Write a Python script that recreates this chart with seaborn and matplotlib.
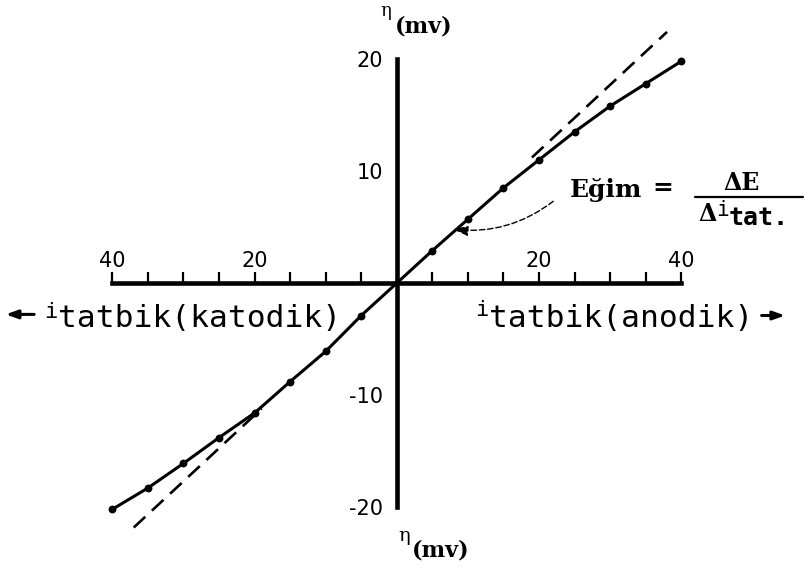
import matplotlib
matplotlib.use("Agg")
import matplotlib.pyplot as plt
import seaborn as sns
import pandas as pd
from matplotlib.ticker import FixedLocator, FuncFormatter

# Applied current (both directions) and measured overpotential eta in mV
i_applied = [-40, -35, -30, -25, -20, -15, -10, -5, 0, 5, 10, 15, 20, 25, 30, 35, 40]
eta_mv = [-20.2, -18.3, -16.1, -13.8, -11.6, -8.8, -6.1, -2.9, 0.0,
          2.9, 5.7, 8.5, 11.0, 13.5, 15.8, 17.8, 19.8]

# Tangent through the origin (slope = dE / di) and where it leaves the curve
tangent_slope = 0.59
tangent_left = [-37.0, -19.0]
tangent_right = [19.0, 38.0]

x_major = [-40, -20, 20, 40]
x_minor = [-35, -30, -25, -15, -10, -5, 5, 10, 15, 25, 30, 35]
y_major = [-20, -10, 10, 20]
y_minor = [-17.5, -15, -12.5, -7.5, -5, -2.5, 2.5, 5, 7.5, 12.5, 15, 17.5]

sns.set_style("white")
plt.rcParams["axes.unicode_minus"] = False
plt.rcParams["font.family"] = ["DejaVu Sans"]
plt.rcParams["text.color"] = "black"
plt.rcParams["xtick.color"] = "black"
plt.rcParams["ytick.color"] = "black"
plt.rcParams["xtick.labelcolor"] = "black"
plt.rcParams["ytick.labelcolor"] = "black"

df = pd.DataFrame({"i": i_applied, "eta": eta_mv})

fig = plt.figure(figsize=(8.1, 5.72), dpi=100)
ax = fig.add_axes([0, 0, 1, 1])
ax.set_xlim(-55.8, 58.1)
ax.set_ylim(-25.8, 25.27)
ax.set_facecolor("white")

# Cross-shaped axes through the origin
ax.spines["right"].set_visible(False)
ax.spines["bottom"].set_visible(False)
ax.spines["left"].set_position(("data", 0))
ax.spines["left"].set_bounds(-20, 20)
ax.spines["top"].set_position(("data", 0))
ax.spines["top"].set_bounds(-40, 40)
for s in ("left", "top"):
    ax.spines[s].set_linewidth(3.3)
    ax.spines[s].set_color("black")
    ax.spines[s].set_zorder(3)

ax.xaxis.tick_top()
ax.xaxis.set_major_locator(FixedLocator(x_major))
ax.xaxis.set_minor_locator(FixedLocator(x_minor))
ax.xaxis.set_major_formatter(FuncFormatter(lambda v, p: f"{abs(v):.0f}"))
ax.tick_params(axis="x", which="both", direction="out", length=8, width=1.6,
               color="black", labelcolor="black", labelsize=15, pad=1)

ax.yaxis.set_major_locator(FixedLocator(y_major))
ax.yaxis.set_minor_locator(FixedLocator(y_minor))
ax.yaxis.set_major_formatter(FuncFormatter(lambda v, p: f"{v:.0f}"))
ax.tick_params(axis="y", which="minor", direction="in", length=8, width=1.4, color="black")
ax.tick_params(axis="y", which="major", direction="inout", length=16, width=1.4,
               color="black", labelcolor="black", labelsize=15, pad=2)

# Measured polarization curve
sns.lineplot(data=df, x="i", y="eta", sort=False, estimator=None, color="black",
             linewidth=2.2, ax=ax, zorder=4)
sns.scatterplot(data=df[df["i"] != 0], x="i", y="eta", color="black", s=32,
                edgecolor="black", linewidth=0, ax=ax, zorder=5)

# Dashed tangent lines
for seg in (tangent_left, tangent_right):
    ax.plot(seg, [tangent_slope * v for v in seg], color="black", linewidth=1.9,
            dashes=(6, 3.4), solid_capstyle="butt", zorder=4)

ax.set_xlabel("")
ax.set_ylabel("")

mono = "DejaVu Sans Mono"
serif = "DejaVu Serif"

# Current axis labels with direction arrows
ax.annotate("", xy=(-55.0, -2.8), xytext=(-51.0, -2.8),
            arrowprops=dict(arrowstyle="-|>,head_length=0.7,head_width=0.25",
                            color="black", lw=2.2, shrinkA=0, shrinkB=0))
ax.text(-48.7, -3.1, "i", family=mono, fontsize=16, ha="center", va="baseline")
ax.text(-47.6, -3.93, "tatbik(katodik)", family=mono, fontsize=22.5, ha="left", va="baseline")

ax.text(11.9, -2.9, "i", family=mono, fontsize=16, ha="center", va="baseline")
ax.text(13.0, -3.93, "tatbik(anodik)", family=mono, fontsize=22.5, ha="left", va="baseline")
ax.annotate("", xy=(54.6, -2.9), xytext=(51.3, -2.9),
            arrowprops=dict(arrowstyle="-|>,head_length=0.7,head_width=0.25",
                            color="black", lw=2.2, shrinkA=0, shrinkB=0))

# Overpotential axis labels
ax.text(-1.6, 24.3, "η", family=serif, fontsize=13, ha="center", va="center")
ax.text(-0.3, 22.9, "(mv)", family=serif, fontsize=16, fontweight="bold",
        ha="left", va="center")
ax.text(1.0, -22.6, "η", family=serif, fontsize=14, ha="center", va="center")
ax.text(2.1, -23.9, "(mv)", family=serif, fontsize=16, fontweight="bold",
        ha="left", va="center")

# Slope annotation
ax.text(24.3, 7.68, "Eğim", family=serif, fontsize=18, fontweight="bold",
        ha="left", va="baseline")
ax.text(37.4, 8.5, "=", family=serif, fontsize=18, fontweight="bold",
        ha="center", va="center")
ax.plot([41.9, 57.1], [7.7, 7.7], color="black", linewidth=1.6)
ax.text(48.4, 8.9, "ΔE", family=serif, fontsize=17, fontweight="bold",
        ha="center", va="center")
ax.text(43.7, 6.2, "Δ", family=serif, fontsize=17, fontweight="bold",
        ha="center", va="center")
ax.text(45.8, 6.5, "i", family=mono, fontsize=15, ha="center", va="center")
ax.text(46.6, 5.85, "tat.", family=mono, fontsize=18, fontweight="bold",
        ha="left", va="center")
ax.annotate("", xy=(7.9, 4.8), xytext=(22.0, 7.3),
            arrowprops=dict(arrowstyle="-|>,head_length=0.9,head_width=0.3",
                            color="black", lw=1.0, linestyle=(0, (4, 2)),
                            connectionstyle="arc3,rad=-0.2", shrinkA=0, shrinkB=0))

fig.savefig("out.png", dpi=100, facecolor="white")
